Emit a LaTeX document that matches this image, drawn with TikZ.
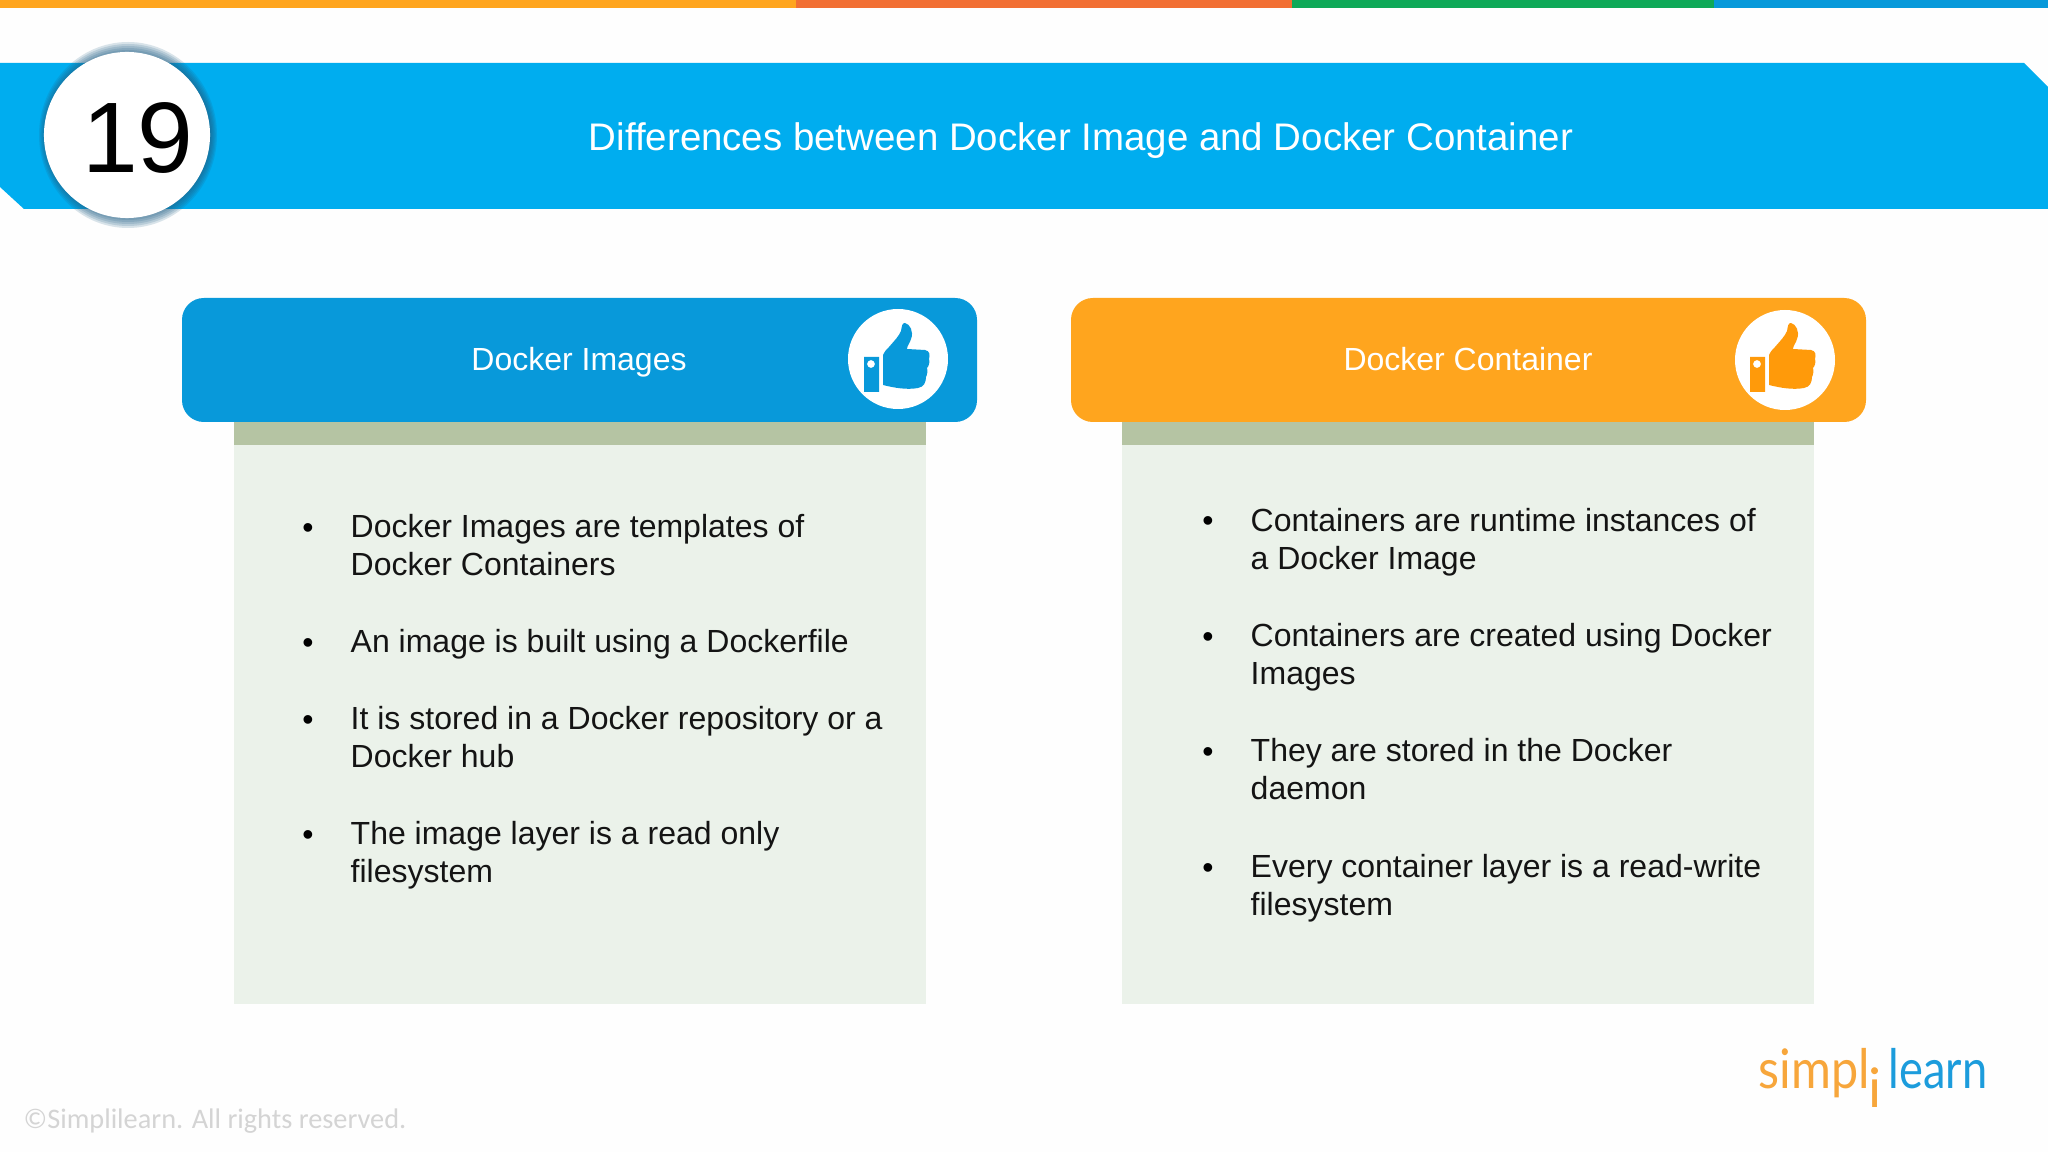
\documentclass[tikz,border=0pt]{standalone}
\usepackage{fontspec}
\setmainfont{Liberation Sans}
\newfontfamily\logofont{Lato}
\newfontfamily\footfont{Carlito}
\definecolor{banner}{HTML}{00ADEF}
\definecolor{headblue}{HTML}{0899DA}
\definecolor{headorange}{HTML}{FFA51E}
\definecolor{thumborange}{HTML}{FF9A0A}
\definecolor{panelgreen}{HTML}{EBF2EA}
\definecolor{bandgreen}{HTML}{B5C4A3}
\definecolor{logoblue}{HTML}{1C9CDC}
\definecolor{logoorange}{HTML}{F7A63B}
\definecolor{stripered}{HTML}{F26F33}
\definecolor{stripegreen}{HTML}{0FA958}
\definecolor{badgeshadow}{HTML}{1F5F85}
\tikzset{
	head/.style={rounded corners=6.2pt, inner sep=0},
	headlabel/.style={white, inner sep=0, anchor=base, font=\fontsize{9.1}{11}\selectfont},
	bulletmark/.style={inner sep=0, font=\fontsize{9.1}{10.8}\selectfont, anchor=base},
	itemtext/.style={inner sep=0, align=left, font=\fontsize{9.1}{10.8}\selectfont, color=black!92},
	logotext/.style={inner sep=0, font=\logofont\fontsize{15.5}{18}\selectfont},
}
% one bullet with its text: name, x, baseline of the first line, text
\newcommand{\itemrow}[4]{
	\node[bulletmark] (#1b) at (#2-42, #3) {•};
	\node[itemtext, anchor=north west] (#1) at (#2, #3-24) {#4};
}
% thumb icon at an offset
\newcommand{\thumbicon}[2]{
	\begin{scope}[shift={(#1, 0)}]
		\fill[#2, even odd rule] (864, 357) rectangle (879, 392) (871, 364) circle (4);
		\fill[#2] (883, 385) -- (883, 355) .. controls (885, 351) and (886, 350) .. (889, 347)
			.. controls (895, 340) and (899, 336) .. (901, 331) .. controls (902, 326) and (902, 323) .. (905, 323)
			.. controls (910, 324) and (914, 332) .. (911, 339) .. controls (910, 343) and (907, 346) .. (907, 349)
			-- (925, 350) .. controls (930, 351) and (930, 355) .. (929, 359) .. controls (930, 362) and (929, 366) .. (927, 368)
			.. controls (928, 371) and (927, 375) .. (926, 377) .. controls (926, 382) and (924, 387) .. (918, 388)
			.. controls (907, 390) and (895, 388) .. (883, 385) -- cycle;
	\end{scope}
}
\begin{document}
\begin{tikzpicture}[x=0.01cm, y=-0.01cm]
	\useasboundingbox (0, 0) rectangle (2048, 1152);
	\fill[white!99.5!black] (0, 0) rectangle (2048, 1152);

	% top stripes
	\fill[headorange] (0, 0) rectangle (796, 8);
	\fill[stripered] (796, 0) rectangle (1292, 8);
	\fill[stripegreen] (1292, 0) rectangle (1714, 8);
	\fill[headblue] (1714, 0) rectangle (2048, 8);

	% title banner
	\fill[banner] (0, 63) -- (2024, 63) -- (2048, 87) -- (2048, 209) -- (24, 209) -- (0, 187) -- cycle;
	\node[white, inner sep=0, anchor=base, font=\fontsize{10.93}{13}\selectfont] (title) at (1081, 151) {Differences between Docker Image and Docker Container};

	% number badge
	\foreach \r in {0, 2, 4, 6, 8, 10}
		\fill[badgeshadow, opacity=0.17] (128, 135) ellipse ({83 + \r*0.6} and {83 + \r});
	\node[circle, fill=white, minimum size=1.66cm, inner sep=0] (badge) at (127, 135) {};
	\node[inner sep=0, anchor=base, font=\fontsize{28.5}{34}\selectfont] (number) at (138, 173) {19};

	% left card
	\fill[panelgreen] (234, 422) rectangle (926, 1004);
	\fill[bandgreen] (234, 422) rectangle (926, 445);
	\fill[headblue, head] (182, 298) rectangle (977, 422);
	\node[headlabel] (imagehead) at (579, 371) {Docker Images};
	\fill[white] (898, 359) circle (50);
	\thumbicon{0}{headblue}

	% right card
	\fill[panelgreen] (1122, 422) rectangle (1814, 1004);
	\fill[bandgreen] (1122, 422) rectangle (1814, 445);
	\fill[headorange, head] (1071, 298) rectangle (1866, 422);
	\node[headlabel] (containerhead) at (1468, 371) {Docker Container};
	\fill[white] (1785, 360) circle (50);
	\thumbicon{886}{thumborange}

	% left items
	\itemrow{imgone}{350}{538}{Docker Images are templates of\\Docker Containers}
	\itemrow{imgtwo}{350}{653}{An image is built using a Dockerfile}
	\itemrow{imgthree}{350}{730}{It is stored in a Docker repository or a\\Docker hub}
	\itemrow{imgfour}{350}{845}{The image layer is a read only\\filesystem}

	% right items
	\itemrow{conone}{1250}{532}{Containers are runtime instances of\\a Docker Image}
	\itemrow{contwo}{1250}{647}{Containers are created using Docker\\Images}
	\itemrow{conthree}{1250}{762}{They are stored in the Docker\\daemon}
	\itemrow{confour}{1250}{878}{Every container layer is a read-write\\filesystem}

	% footer and logo
	\node[inner sep=0, anchor=west, color=black!17, font=\footfont\fontsize{8.05}{10}\selectfont] (rights) at (23, 1121) {©Simplilearn. All rights reserved.};
	\node[logotext, anchor=base west, xscale=0.89, color=logoorange] (logosimpl) at (1758, 1088) {simpl};
	\node[logotext, anchor=base, color=logoorange] (logoi) at (1875, 1107) {i};
	\node[logotext, anchor=base west, xscale=0.83, color=logoblue] (logolearn) at (1888, 1088) {learn};
\end{tikzpicture}
\end{document}
